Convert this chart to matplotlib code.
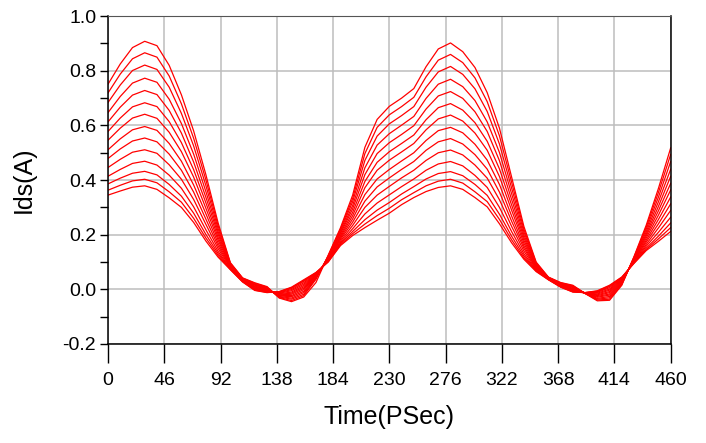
import matplotlib
matplotlib.use("Agg")
import matplotlib.pyplot as plt
from matplotlib.ticker import MultipleLocator

plt.rcParams['font.family'] = ['Liberation Sans', 'DejaVu Sans']

# time axis (ps), one sample every 10 ps
time_ps = list(range(0, 461, 10))

# Ids (A) traces, highest amplitude first
ids_01 = [0.751, 0.825, 0.885, 0.908, 0.892, 0.820, 0.712, 0.580, 0.420, 0.243, 0.098, 0.042, 0.024, 0.010, -0.032, -0.045, -0.028, 0.025, 0.125, 0.225, 0.345, 0.520, 0.622, 0.670, 0.700, 0.735, 0.815, 0.880, 0.902, 0.870, 0.812, 0.720, 0.590, 0.410, 0.230, 0.100, 0.045, 0.025, 0.015, -0.015, -0.042, -0.040, 0.015, 0.120, 0.235, 0.370, 0.518]
ids_02 = [0.719, 0.788, 0.844, 0.866, 0.850, 0.781, 0.679, 0.553, 0.401, 0.233, 0.096, 0.041, 0.022, 0.008, -0.030, -0.041, -0.023, 0.037, 0.123, 0.220, 0.333, 0.497, 0.593, 0.639, 0.669, 0.703, 0.778, 0.839, 0.860, 0.830, 0.774, 0.687, 0.562, 0.391, 0.220, 0.097, 0.044, 0.024, 0.013, -0.015, -0.039, -0.036, 0.017, 0.118, 0.228, 0.355, 0.494]
ids_03 = [0.684, 0.748, 0.801, 0.821, 0.805, 0.740, 0.644, 0.525, 0.380, 0.222, 0.094, 0.040, 0.019, 0.006, -0.028, -0.036, -0.018, 0.040, 0.121, 0.214, 0.321, 0.472, 0.561, 0.606, 0.636, 0.669, 0.740, 0.796, 0.816, 0.787, 0.734, 0.651, 0.532, 0.370, 0.210, 0.094, 0.043, 0.022, 0.011, -0.015, -0.036, -0.031, 0.020, 0.116, 0.220, 0.338, 0.468]
ids_04 = [0.647, 0.706, 0.755, 0.773, 0.758, 0.696, 0.607, 0.495, 0.358, 0.211, 0.091, 0.038, 0.017, 0.004, -0.026, -0.032, -0.012, 0.042, 0.119, 0.208, 0.307, 0.445, 0.528, 0.570, 0.601, 0.633, 0.699, 0.751, 0.769, 0.742, 0.691, 0.613, 0.501, 0.349, 0.199, 0.091, 0.043, 0.021, 0.009, -0.014, -0.033, -0.026, 0.023, 0.114, 0.211, 0.321, 0.440]
ids_05 = [0.613, 0.667, 0.711, 0.728, 0.713, 0.655, 0.572, 0.466, 0.337, 0.201, 0.089, 0.037, 0.015, 0.003, -0.024, -0.027, -0.007, 0.044, 0.117, 0.203, 0.295, 0.420, 0.497, 0.537, 0.567, 0.599, 0.660, 0.708, 0.724, 0.699, 0.650, 0.578, 0.471, 0.328, 0.189, 0.088, 0.042, 0.019, 0.007, -0.014, -0.029, -0.021, 0.025, 0.112, 0.203, 0.304, 0.414]
ids_06 = [0.578, 0.627, 0.668, 0.683, 0.669, 0.614, 0.537, 0.438, 0.317, 0.190, 0.087, 0.036, 0.012, 0.001, -0.022, -0.023, -0.001, 0.047, 0.114, 0.197, 0.282, 0.395, 0.465, 0.504, 0.534, 0.565, 0.621, 0.665, 0.680, 0.656, 0.610, 0.542, 0.441, 0.308, 0.179, 0.085, 0.041, 0.018, 0.004, -0.014, -0.026, -0.017, 0.028, 0.109, 0.196, 0.288, 0.388]
ids_07 = [0.546, 0.590, 0.627, 0.641, 0.626, 0.575, 0.504, 0.411, 0.297, 0.180, 0.085, 0.034, 0.010, -0.001, -0.020, -0.018, 0.004, 0.049, 0.112, 0.192, 0.270, 0.372, 0.436, 0.473, 0.503, 0.534, 0.584, 0.624, 0.638, 0.616, 0.572, 0.509, 0.413, 0.289, 0.169, 0.082, 0.040, 0.016, 0.002, -0.013, -0.023, -0.012, 0.030, 0.107, 0.188, 0.272, 0.364]
ids_08 = [0.511, 0.551, 0.584, 0.596, 0.582, 0.534, 0.469, 0.382, 0.277, 0.169, 0.083, 0.033, 0.008, -0.003, -0.018, -0.014, 0.009, 0.051, 0.110, 0.187, 0.258, 0.347, 0.404, 0.439, 0.470, 0.500, 0.545, 0.581, 0.593, 0.573, 0.531, 0.473, 0.384, 0.268, 0.159, 0.079, 0.039, 0.015, 0.000, -0.013, -0.020, -0.008, 0.033, 0.105, 0.180, 0.256, 0.338]
ids_09 = [0.479, 0.514, 0.543, 0.554, 0.540, 0.495, 0.436, 0.356, 0.257, 0.159, 0.081, 0.032, 0.005, -0.005, -0.016, -0.010, 0.014, 0.053, 0.108, 0.182, 0.246, 0.323, 0.375, 0.408, 0.439, 0.468, 0.509, 0.540, 0.552, 0.532, 0.493, 0.440, 0.356, 0.249, 0.150, 0.077, 0.038, 0.014, -0.002, -0.013, -0.017, -0.003, 0.035, 0.103, 0.173, 0.240, 0.313]
ids_10 = [0.446, 0.476, 0.502, 0.511, 0.498, 0.456, 0.403, 0.329, 0.238, 0.149, 0.079, 0.031, 0.003, -0.007, -0.014, -0.005, 0.019, 0.055, 0.106, 0.176, 0.234, 0.300, 0.345, 0.377, 0.408, 0.436, 0.472, 0.500, 0.510, 0.492, 0.455, 0.407, 0.328, 0.230, 0.140, 0.074, 0.038, 0.012, -0.004, -0.013, -0.014, 0.001, 0.038, 0.101, 0.165, 0.225, 0.289]
ids_11 = [0.414, 0.439, 0.461, 0.469, 0.455, 0.418, 0.370, 0.302, 0.218, 0.139, 0.076, 0.030, 0.001, -0.008, -0.012, -0.001, 0.024, 0.057, 0.104, 0.171, 0.222, 0.276, 0.316, 0.346, 0.376, 0.404, 0.436, 0.459, 0.468, 0.452, 0.417, 0.373, 0.300, 0.211, 0.130, 0.071, 0.037, 0.011, -0.006, -0.013, -0.011, 0.006, 0.040, 0.099, 0.158, 0.209, 0.264]
ids_12 = [0.386, 0.407, 0.425, 0.432, 0.419, 0.384, 0.341, 0.279, 0.201, 0.131, 0.075, 0.029, -0.001, -0.010, -0.010, 0.003, 0.029, 0.059, 0.103, 0.167, 0.212, 0.255, 0.290, 0.318, 0.349, 0.376, 0.404, 0.424, 0.431, 0.416, 0.384, 0.344, 0.275, 0.194, 0.122, 0.069, 0.036, 0.010, -0.008, -0.012, -0.009, 0.010, 0.042, 0.098, 0.151, 0.195, 0.243]
ids_13 = [0.363, 0.381, 0.397, 0.403, 0.390, 0.357, 0.319, 0.260, 0.188, 0.124, 0.073, 0.028, -0.003, -0.011, -0.009, 0.006, 0.032, 0.061, 0.101, 0.163, 0.204, 0.239, 0.270, 0.297, 0.328, 0.354, 0.379, 0.396, 0.403, 0.389, 0.357, 0.321, 0.256, 0.181, 0.115, 0.067, 0.036, 0.009, -0.009, -0.012, -0.007, 0.013, 0.044, 0.096, 0.146, 0.185, 0.226]
ids_14 = [0.345, 0.360, 0.374, 0.379, 0.366, 0.335, 0.300, 0.245, 0.177, 0.118, 0.072, 0.027, -0.004, -0.012, -0.008, 0.008, 0.035, 0.062, 0.100, 0.160, 0.197, 0.226, 0.253, 0.279, 0.310, 0.336, 0.358, 0.373, 0.379, 0.366, 0.336, 0.302, 0.240, 0.170, 0.110, 0.065, 0.035, 0.008, -0.010, -0.012, -0.005, 0.015, 0.045, 0.095, 0.142, 0.176, 0.212]

traces = [ids_01, ids_02, ids_03, ids_04, ids_05, ids_06, ids_07,
          ids_08, ids_09, ids_10, ids_11, ids_12, ids_13, ids_14]

x_ticks = [0, 46, 92, 138, 184, 230, 276, 322, 368, 414, 460]

fig = plt.figure(figsize=(7.06, 4.43), dpi=100)
ax = fig.add_axes([0.153, 0.2235, 0.797, 0.740])

for tr in traces:
    ax.plot(time_ps, tr, color='#ff0000', linewidth=0.9)

ax.set_xlim(0, 460)
ax.set_ylim(-0.2, 1.0)
ax.set_xticks(x_ticks)
ax.yaxis.set_major_locator(MultipleLocator(0.2))
ax.yaxis.set_minor_locator(MultipleLocator(0.1))
ax.set_yticklabels([f"{v:.1f}" for v in ax.get_yticks()])

ax.grid(True, which='major', color='#bdbdbd', linewidth=1.1)
ax.set_axisbelow(True)

ax.tick_params(axis='x', which='major', direction='out', length=14, width=1,
               pad=6, labelsize=14)
ax.tick_params(axis='y', which='both', direction='out', length=5.5, width=1,
               pad=3, labelsize=14)

for side in ['left', 'bottom', 'right']:
    ax.spines[side].set_color('black')
    ax.spines[side].set_linewidth(1.1)
ax.spines['top'].set_color('#555555')

ax.set_xlabel("Time(PSec)", fontsize=18, labelpad=12)
ax.set_ylabel("Ids(A)", fontsize=18, labelpad=19)

fig.savefig("out.png", dpi=100)
